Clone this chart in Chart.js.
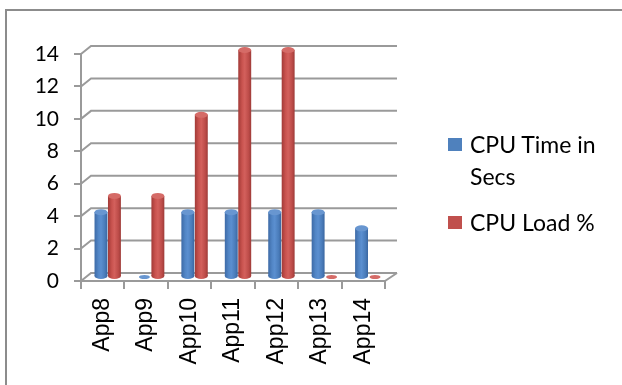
<!DOCTYPE html>
<html><head><meta charset="utf-8">
<script src="https://cdn.jsdelivr.net/npm/chart.js@4.4.0/dist/chart.umd.min.js"></script>
<style>
html,body{margin:0;padding:0;background:#fff;}
#wrap{position:relative;width:622px;height:385px;overflow:hidden;background:#fff;}
#frame{position:absolute;left:5px;top:9px;width:700px;height:500px;border-left:2px solid #8c8c8c;border-top:2px solid #8c8c8c;}
canvas{position:absolute;left:0;top:0;}
#legend{position:absolute;left:448px;top:128px;font-family:Lato,sans-serif;font-size:23px;color:#000;}
.item{position:relative;padding-left:22px;width:150px;line-height:32px;margin-bottom:14px;}
.sw{position:absolute;left:0;top:10px;width:14px;height:13px;}
</style></head>
<body><div id="wrap"><div id="frame"></div><canvas id="c" width="622" height="385"></canvas><div id="legend"></div></div>
<script>
const categories = ['App8','App9','App10','App11','App12','App13','App14'];
const cpuTimeSecs = [4,0,4,4,4,4,3];
const cpuLoadPct = [5,5,10,14,14,0,0];
const yTicks = [0,2,4,6,8,10,12,14];
const seriesNames = ['CPU Time in Secs','CPU Load %'];
const seriesColors = ['#4F81BD','#C0504D'];

const DX = 10, DY = -8;
const grads = [
  ['#3d6aa6','#5286c6','#5b8fd0','#4a7cba','#3a66a0'],
  ['#a23a37','#c9534f','#d3605c','#bd4c49','#9e3b38']
];
const tops = ['#6896d0','#d56b67'];

const cyl3d = {
  id:'cyl3d',
  beforeDatasetsDraw(chart){
    const {ctx, chartArea:a, scales:{x,y}} = chart;
    ctx.save();
    ctx.strokeStyle = '#9a9a9a'; ctx.lineWidth = 2;
    y.ticks.forEach(t=>{
      const py = y.getPixelForValue(t.value);
      ctx.beginPath(); ctx.moveTo(a.left,py); ctx.lineTo(a.left+DX,py+DY); ctx.lineTo(a.right+DX+2,py+DY); ctx.stroke();
    });
    ctx.beginPath(); ctx.moveTo(a.right,a.bottom); ctx.lineTo(a.right+DX+2,a.bottom+DY); ctx.stroke();
    ctx.restore();
    chart.data.datasets.forEach((ds,i)=>{
      const meta = chart.getDatasetMeta(i);
      meta.data.forEach(el=>{
        const l = el.x-el.width/2, r = el.x+el.width/2;
        const g = ctx.createLinearGradient(l,0,r,0);
        const s = grads[i];
        g.addColorStop(0,s[0]); g.addColorStop(0.3,s[1]); g.addColorStop(0.5,s[2]); g.addColorStop(0.8,s[3]); g.addColorStop(1,s[4]);
        el.options = Object.assign({}, el.options, {backgroundColor:g});
      });
    });
    ctx.save();
    ctx.translate(DX/2, DY/2);
  },
  afterDatasetsDraw(chart){
    const ctx = chart.ctx;
    chart.data.datasets.forEach((ds,i)=>{
      const meta = chart.getDatasetMeta(i);
      meta.data.forEach(el=>{
        const rx = el.width/2;
        const flat = Math.abs(el.base-el.y) <= 0.5;
        if (!flat) {
          ctx.beginPath(); ctx.ellipse(el.x, el.base, rx, 3, 0, 0, Math.PI*2);
          ctx.fillStyle = el.options.backgroundColor; ctx.fill();
        }
        ctx.beginPath(); ctx.ellipse(el.x, el.y, flat ? rx*0.85 : rx, flat ? 2 : 3, 0, 0, Math.PI*2);
        ctx.fillStyle = tops[i]; ctx.fill();
      });
    });
    ctx.restore();
  }
};

const chart = new Chart(document.getElementById('c'), {
  type:'bar',
  data:{
    labels: categories,
    datasets:[
      {label: seriesNames[0], data: cpuTimeSecs, backgroundColor: ()=>seriesColors[0], borderWidth:0, categoryPercentage:0.62, barPercentage:0.96},
      {label: seriesNames[1], data: cpuLoadPct, backgroundColor: ()=>seriesColors[1], borderWidth:0, categoryPercentage:0.62, barPercentage:0.96}
    ]
  },
  options:{
    responsive:false, animation:false, devicePixelRatio:1,
    layout:{padding:{left:0, top:54, right:237, bottom:0}},
    plugins:{legend:{display:false}, tooltip:{enabled:false}},
    scales:{
      y:{
        min:0, max:14,
        afterBuildTicks: s=>{ s.ticks = yTicks.map(v=>({value:v})); },
        afterFit: s=>{ s.width = 81; },
        grid:{drawOnChartArea:false, drawTicks:true, tickLength:7, color:'#9a9a9a', lineWidth:2},
        border:{display:true, color:'#9a9a9a', width:2},
        ticks:{font:{family:'Lato', size:21}, color:'#000', padding:15}
      },
      x:{
        afterFit: s=>{ s.height = 104; },
        grid:{drawOnChartArea:false, drawTicks:true, tickLength:8, color:'#9a9a9a', lineWidth:2},
        border:{display:true, color:'#9a9a9a', width:2},
        ticks:{font:{family:'Liberation Sans', size:23}, color:'#000', padding:9, maxRotation:90, minRotation:90, autoSkip:false}
      }
    }
  },
  plugins:[cyl3d]
});

const leg = document.getElementById('legend');
chart.data.datasets.forEach((ds,i)=>{
  const it = document.createElement('div'); it.className='item';
  const sw = document.createElement('span'); sw.className='sw'; sw.style.background = seriesColors[i];
  it.appendChild(sw); it.appendChild(document.createTextNode(ds.label));
  leg.appendChild(it);
});
</script>
</body></html>
